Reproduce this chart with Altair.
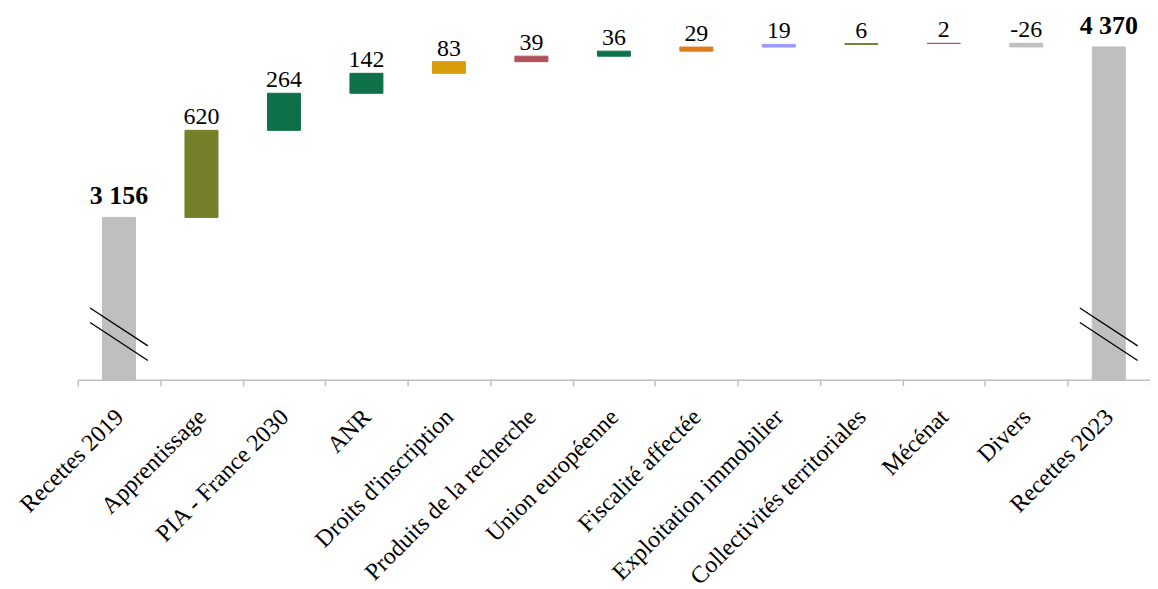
import altair as alt
import pandas as pd

categories = ["Recettes 2019", "Apprentissage", "PIA - France 2030", "ANR",
              "Droits d'inscription", "Produits de la recherche", "Union européenne",
              "Fiscalité affectée", "Exploitation immobilier", "Collectivités territoriales",
              "Mécénat", "Divers", "Recettes 2023"]
values = [3156, 620, 264, 142, 83, 39, 36, 29, 19, 6, 2, -26, 4370]
is_total = [True, False, False, False, False, False, False, False, False, False, False, False, True]
colors = ["#BFBFBF", "#76802A", "#0E7048", "#0E7048", "#D99C0B", "#AF535B", "#0E7048",
          "#E07B1A", "#9999FF", "#76802A", "#AF535B", "#BFBFBF", "#BFBFBF"]

AXIS_MIN = 2000
AXIS_MAX = 4640

# break marks (axis break drawn on the total bars)
break_cats = ["Recettes 2019", "Recettes 2019", "Recettes 2023", "Recettes 2023"]
break_top = [2407, 2511, 2407, 2511]
break_bottom = [2137, 2241, 2137, 2241]

rows = []
running = 0
for cat, v, tot, col in zip(categories, values, is_total, colors):
    if tot:
        start, end = AXIS_MIN, v
        running = v
    else:
        start, end = running, running + v
        running = end
    label = f"{v:,}".replace(",", " ")
    rows.append(dict(cat=cat, start=start, end=end, top=max(start, end),
                     label=label, color=col, total=tot))
df = pd.DataFrame(rows)
brk = pd.DataFrame(dict(cat=break_cats, y1=break_top, y2=break_bottom))

FONT = "Liberation Serif"

xenc = alt.X("cat:N", sort=categories, title=None,
             scale=alt.Scale(paddingInner=0, paddingOuter=0),
             axis=alt.Axis(labelAngle=-45, labelFont=FONT, labelFontSize=24,
                           labelColor="#000000", domainColor="#BFBFBF",
                           tickColor="#BFBFBF", tickSize=6, tickBand="extent",
                           labelPadding=19, labelOffset=-8, labelLimit=400,
                           domainWidth=1.5, tickWidth=1.5))
yscale = alt.Scale(domain=[AXIS_MIN, AXIS_MAX], nice=False, zero=False)

bars = alt.Chart(df).mark_bar(width=alt.RelativeBandSize(0.4), strokeWidth=1).encode(
    x=xenc,
    y=alt.Y("start:Q", scale=yscale, axis=None),
    y2="end:Q",
    color=alt.Color("color:N", scale=None),
    stroke=alt.Stroke("color:N", scale=None),
)

labels_norm = alt.Chart(df).transform_filter("!datum.total").mark_text(
    font=FONT, fontSize=24, baseline="alphabetic", dy=-6, color="#000000"
).encode(x=alt.X("cat:N", sort=categories), y=alt.Y("top:Q", scale=yscale), text="label:N")

labels_tot = alt.Chart(df).transform_filter("datum.total").mark_text(
    font=FONT, fontSize=26, fontWeight="bold", baseline="alphabetic", dy=-13, color="#000000"
).encode(x=alt.X("cat:N", sort=categories), y=alt.Y("top:Q", scale=yscale), text="label:N")

breaks = alt.Chart(brk).mark_rule(color="#000000", strokeWidth=1.3,
                                  xOffset=-29, x2Offset=29).encode(
    x=alt.X("cat:N", sort=categories),
    x2="cat:N",
    y=alt.Y("y1:Q", scale=yscale),
    y2="y2:Q",
)

chart = alt.layer(bars, breaks, labels_norm, labels_tot).properties(
    width=1076, height=372,
    autosize=alt.AutoSizeParams(type="none"),
    padding={"left": 70, "top": 0, "right": 0, "bottom": 210},
).configure_view(stroke=None)

chart.save("out.html", embed_options={"renderer": "svg", "actions": False})
